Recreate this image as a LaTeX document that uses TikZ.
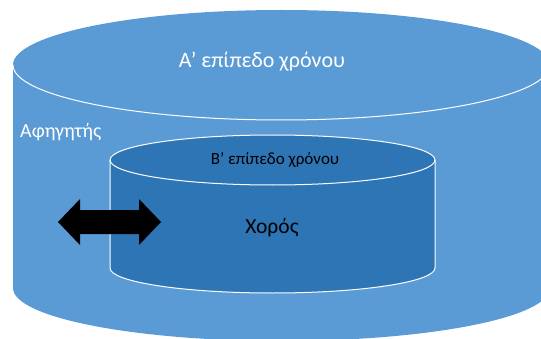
\documentclass[tikz,border=0pt]{standalone}
\usepackage{fontspec}
\setmainfont{Carlito}
\definecolor{outerblue}{HTML}{5B9BD5}
\definecolor{innerblue}{HTML}{2E75B6}
\begin{document}
\begin{tikzpicture}[x=1pt, y=1pt,
  label/.style={inner sep=0pt, font=#1},
  label/.default={\fontsize{22}{26}\selectfont},
  rim/.style={draw=white, line width=1pt}
]
  \useasboundingbox (0,0) rectangle (541,338);
  \clip (0,0) rectangle (541,338);

  % Outer cylinder
  \fill[outerblue] (13,273) -- (13,50) arc (180:360:268.5 and 53)
    -- (550,273) arc (0:180:268.5 and 55) -- cycle;
  \draw[rim] (13,273) arc (180:360:268.5 and 55);

  % Inner cylinder
  \filldraw[innerblue, rim] (110,178) -- (110,70) arc (180:360:162.5 and 25)
    -- (435,178) arc (0:180:162.5 and 25) -- cycle;
  \draw[rim] (110,178) arc (180:360:162.5 and 25);

  % Double arrow
  \fill[black] (58,116) -- (80,139) -- (80,128) -- (139,128) -- (139,139)
    -- (161,116) -- (139,93) -- (139,104) -- (80,104) -- (80,93) -- cycle;

  \node[label, white] (levelA) at (262,276) {Α’ επίπεδο χρόνου};
  \node[label={\fontsize{20}{24}\selectfont}, white, anchor=west] (narrator) at (20,206) {Αφηγητής};
  \node[label={\fontsize{17}{20}\selectfont}] (levelB) at (275,178) {Β’ επίπεδο χρόνου};
  \node[label={\fontsize{21.5}{25}\selectfont}] (chorus) at (272,110) {Χορός};
\end{tikzpicture}
\end{document}
